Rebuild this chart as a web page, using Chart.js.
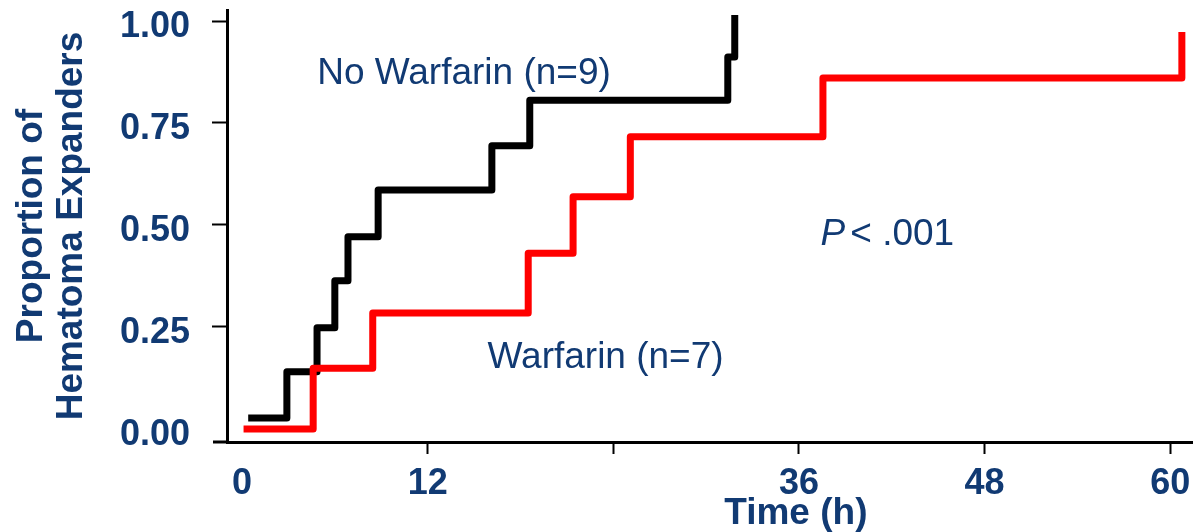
<!DOCTYPE html>
<html>
<head>
<meta charset="utf-8">
<script src="https://cdn.jsdelivr.net/npm/chart.js@4"></script>
<style>
  html, body { margin: 0; padding: 0; background: #fff; }
  #wrap { width: 1193px; height: 532px; position: relative; }
</style>
</head>
<body>
<div id="wrap"><canvas id="kmChart"></canvas></div>
<script>
// === data ===
const noWarfarinTime = [0.4, 2.9, 4.85, 6.0, 6.85, 8.8, 16.15, 18.6, 31.4, 31.85];
const noWarfarinProp = [0.027, 0.14, 0.248, 0.363, 0.471, 0.586, 0.694, 0.806, 0.912, 1.015];
const warfarinTime = [0.1, 4.6, 8.45, 18.5, 21.4, 25.1, 37.55, 60.75];
const warfarinProp = [0, 0.149, 0.284, 0.431, 0.569, 0.716, 0.86, 0.973];

const xTicks = [0, 12, 24, 36, 48, 60];
const xTickLabels = ["0", "12", "", "36", "48", "60"];
const yTicks = [0, 0.25, 0.5, 0.75, 1];
const yTickLabels = ["0.00", "0.25", "0.50", "0.75", "1.00"];

const NAVY = "#113a73";
const FONT = "'Liberation Sans', Arial, sans-serif";

function toPoints(xs, ys) {
  return xs.map((x, i) => ({ x: x, y: ys[i] }));
}

// text labels inside the plot + x title
const annotations = {
  id: "annotations",
  afterDraw(chart) {
    const { ctx, scales: { x, y }, chartArea } = chart;
    ctx.save();
    ctx.fillStyle = NAVY;
    ctx.textBaseline = "middle";

    ctx.font = "37px " + FONT;
    ctx.textAlign = "center";
    ctx.fillText("No Warfarin (n=9)", x.getPixelForValue(14.35), y.getPixelForValue(0.87));
    ctx.fillText("Warfarin (n=7)", x.getPixelForValue(23.5), y.getPixelForValue(0.175));

    // P < .001
    ctx.textAlign = "left";
    let px = x.getPixelForValue(37.4);
    const py = y.getPixelForValue(0.475);
    ctx.font = "italic 37px " + FONT;
    ctx.fillText("P", px, py);
    px += ctx.measureText("P").width + 5;
    ctx.font = "37px " + FONT;
    ctx.fillText("< .001", px, py);

    // x axis title
    ctx.font = "bold 37px " + FONT;
    ctx.textAlign = "center";
    ctx.fillText("Time (h)", x.getPixelForValue(35.8), 514);

    // x axis line runs a bit past the y axis
    ctx.strokeStyle = "#000";
    ctx.lineWidth = 3;
    ctx.beginPath();
    ctx.moveTo(213, chartArea.bottom);
    ctx.lineTo(chartArea.left, chartArea.bottom);
    ctx.stroke();
    ctx.restore();
  }
};

new Chart(document.getElementById("kmChart"), {
  type: "line",
  data: {
    datasets: [
      {
        label: "Warfarin (n=7)",
        data: toPoints(warfarinTime, warfarinProp),
        borderColor: "#ff0000",
        borderWidth: 7,
        stepped: true,
        pointRadius: 0,
        fill: false,
        borderJoinStyle: "round",
        clip: false
      },
      {
        label: "No Warfarin (n=9)",
        data: toPoints(noWarfarinTime, noWarfarinProp),
        borderColor: "#000000",
        borderWidth: 7,
        stepped: true,
        pointRadius: 0,
        fill: false,
        borderJoinStyle: "round",
        clip: false
      }
    ]
  },
  options: {
    responsive: true,
    maintainAspectRatio: false,
    animation: false,
    layout: { padding: { top: 10, right: 0, left: 0, bottom: 0 } },
    plugins: {
      legend: { display: false },
      tooltip: { enabled: false }
    },
    scales: {
      x: {
        type: "linear",
        min: -0.97,
        max: 61.47,
        afterBuildTicks: (scale) => { scale.ticks = xTicks.map(v => ({ value: v })); },
        afterFit: (scale) => {
          scale.height = 90;
          scale.paddingLeft = 0;
          scale.paddingRight = 0;
        },
        border: { display: true, color: "#000", width: 3 },
        grid: {
          drawOnChartArea: false,
          drawTicks: true,
          tickLength: 12,
          tickWidth: 2,
          tickColor: (ctx) => (ctx.tick && ctx.tick.value === 0 ? "rgba(0,0,0,0)" : "#000")
        },
        ticks: {
          autoSkip: false,
          maxRotation: 0,
          padding: 8,
          color: NAVY,
          font: { family: FONT, size: 36, weight: "bold" },
          callback: (v) => xTickLabels[xTicks.indexOf(v)]
        }
      },
      y: {
        min: -0.032,
        max: 1.027,
        afterBuildTicks: (scale) => { scale.ticks = yTicks.map(v => ({ value: v })); },
        afterFit: (scale) => {
          scale.width = 227;
          scale.paddingTop = 0;
          scale.paddingBottom = 0;
        },
        border: { display: true, color: "#000", width: 3 },
        grid: {
          drawOnChartArea: false,
          drawTicks: true,
          tickLength: 15,
          tickWidth: 2,
          tickColor: (ctx) => (ctx.tick && ctx.tick.value === 0 ? "rgba(0,0,0,0)" : "#000")
        },
        ticks: {
          padding: 22,
          labelOffset: 6,
          color: NAVY,
          font: { family: FONT, size: 36, weight: "bold" },
          callback: (v) => yTickLabels[yTicks.indexOf(v)]
        },
        title: {
          display: true,
          text: ["Proportion of", "Hematoma Expanders"],
          color: NAVY,
          font: { family: FONT, size: 37, weight: "bold", lineHeight: 1.1 },
          padding: { top: 11, bottom: 0 }
        }
      }
    }
  },
  plugins: [annotations]
});
</script>
</body>
</html>
